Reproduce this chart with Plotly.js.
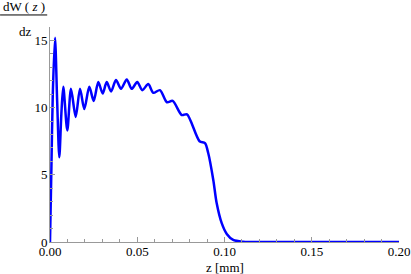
<!DOCTYPE html>
<html>
<head>
<meta charset="utf-8">
<script src="https://cdn.plot.ly/plotly-3.0.1.min.js"></script>
<style>html,body{margin:0;padding:0;background:#fff;}#chart{width:411px;height:274px;}</style>
</head>
<body>
<div id="chart"></div>
<script>
// z position [mm]
const zValues = [0, 0.0008, 0.0016, 0.00287, 0.0041, 0.00533, 0.0065, 0.00762, 0.00991, 0.01203, 0.01473, 0.01719, 0.01966,
  0.02252, 0.02504, 0.02768, 0.0302, 0.0325, 0.0350, 0.0378, 0.0407, 0.0440, 0.0468, 0.0500, 0.0529,
  0.0563, 0.0592, 0.0630, 0.0670, 0.0703, 0.0755, 0.0785, 0.0857, 0.0888, 0.0907, 0.0936, 0.0955,
  0.0984, 0.1013, 0.1050, 0.1106, 0.13, 0.16, 0.2];
// dW(z)/dz
const dWdz = [0, 5.5, 11, 15.2, 10.5, 6.3, 9.5, 11.55, 8.3, 11.4, 9.3, 11.4, 9.9,
  11.55, 10.5, 11.9, 11.05, 11.9, 11.2, 12.05, 11.4, 12.1, 11.4, 11.9, 11.3,
  11.75, 11.1, 11.3, 10.4, 10.5, 9.45, 9.5, 7.5, 7.35, 6.6, 4.6, 2.9,
  1.4, 0.6, 0.15, 0.02, 0, 0, 0];
const xTicks = [0, 0.05, 0.10, 0.15, 0.20];
const xTickLabels = ["0.00", "0.05", "0.10", "0.15", "0.20"];
const yTicks = [0, 5, 10, 15];
const yTickLabels = ["0", "5", "10", "15"];

const axisColor = '#999999';
const font = {family: '"Liberation Serif", "DejaVu Serif", serif', size: 13, color: '#000'};

const trace = {
  x: zValues, y: dWdz, type: 'scatter', mode: 'lines',
  line: {color: '#0000ff', width: 2.5, shape: 'spline', smoothing: 0.8},
  hoverinfo: 'none', cliponaxis: false
};

const layout = {
  width: 411, height: 274,
  margin: {l: 50, r: 12, t: 27, b: 32},
  paper_bgcolor: '#fff', plot_bgcolor: '#fff',
  showlegend: false,
  font: font,
  xaxis: {
    range: [0, 0.2], showgrid: false, zeroline: false, showline: true, linecolor: axisColor, linewidth: 1,
    ticks: 'inside', ticklen: 5, tickcolor: axisColor, tickvals: xTicks, ticktext: xTickLabels,
    tickfont: font, ticklabelstandoff: -3,
    minor: {dtick: 0.01, ticks: 'inside', ticklen: 3, tickcolor: axisColor, showgrid: false}
  },
  yaxis: {
    range: [0, 16], showgrid: false, zeroline: false, showline: true, linecolor: axisColor, linewidth: 1,
    ticks: 'inside', ticklen: 5, tickcolor: axisColor, tickvals: yTicks, ticktext: yTickLabels,
    tickfont: font, ticklabelstandoff: -1,
    minor: {dtick: 1, ticks: 'inside', ticklen: 3, tickcolor: axisColor, showgrid: false}
  },
  annotations: [
    {text: 'dW ( <i>z</i> )', xref: 'paper', yref: 'paper', x: -0.139, y: 1.096, xanchor: 'left', yanchor: 'middle',
     showarrow: false, font: font},
    {text: 'dz', xref: 'paper', yref: 'paper', x: -0.095, y: 0.98, xanchor: 'left', yanchor: 'middle',
     showarrow: false, font: font},
    {text: 'z [mm]', xref: 'paper', yref: 'paper', x: 0.5, y: -0.118, xanchor: 'center', yanchor: 'middle',
     showarrow: false, font: font}
  ],
  shapes: [
    {type: 'line', xref: 'paper', yref: 'paper', x0: -0.143, x1: -0.008, y0: 1.056, y1: 1.056,
     line: {color: '#000', width: 1}}
  ]
};

Plotly.newPlot('chart', [trace], layout, {staticPlot: true, displayModeBar: false});
</script>
</body>
</html>
